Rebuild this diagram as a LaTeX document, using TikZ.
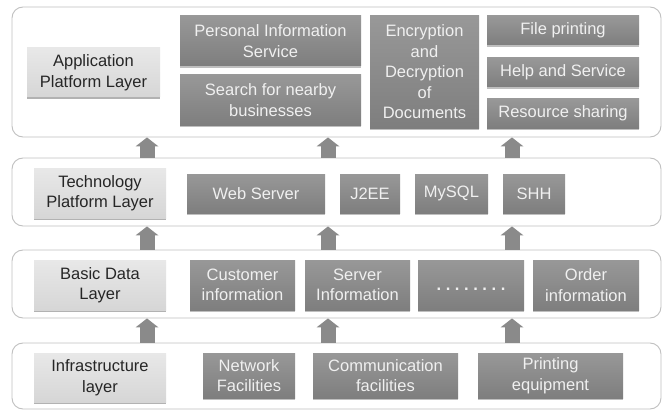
\documentclass[tikz,border=0pt]{standalone}
\usepackage{fontspec}
\setmainfont{Liberation Sans}
\usetikzlibrary{arrows.meta,shadows}
\definecolor{rim}{HTML}{C0C0C0}
\definecolor{slate}{HTML}{8A8A8A}
\definecolor{slatetop}{HTML}{989898}
\definecolor{slatebot}{HTML}{7E7E7E}
\definecolor{paletop}{HTML}{E8E8E8}
\definecolor{palebot}{HTML}{D6D6D6}
\newcommand{\txt}{\fontsize{16.5}{20.5}\selectfont}
\tikzset{layer/.style={draw=rim,line width=.9pt,rounded corners=11pt,fill=white},
  sz/.style 2 args={minimum width=#1,minimum height=#2},
  tag/.style={top color=paletop,bottom color=palebot,text=black!85,align=center,inner sep=0pt,font=\txt,
    drop shadow={shadow xshift=.4pt,shadow yshift=-1.6pt,fill=black,opacity=.3}},
  unit/.style={top color=slatetop,bottom color=slatebot,text=white!94!black,align=center,inner sep=0pt,font=\txt,
    drop shadow={shadow xshift=.4pt,shadow yshift=-1.6pt,fill=black,opacity=.25}},
  uparr/.style={draw=slate,line width=15pt,-{Triangle[width=23pt,length=9pt,line width=0pt]}}}

\begin{document}
\begin{tikzpicture}[x=1pt,y=-1pt]
\useasboundingbox (0,0) rectangle (670,412);
% the four layers
\node[layer,sz={649pt}{130pt}] (lay1) at (336.5,72) {};
\node[layer,sz={649pt}{68pt}] (lay2) at (336.5,192) {};
\node[layer,sz={649pt}{68pt}] (lay3) at (336.5,284) {};
\node[layer,sz={649pt}{66pt}] (lay4) at (336.5,376) {};
\foreach \x [count=\i] in {147,328,512} \coordinate (col\i) at (\x,0);
\foreach \i in {1,2,3}{
  \draw[uparr] (lay2.north -| col\i) -- (lay1.south -| col\i);
  \draw[uparr] (lay3.north -| col\i) -- (lay2.south -| col\i);
  \draw[uparr] (lay4.north -| col\i) -- (lay3.south -| col\i);}
% application platform layer
\node[tag,sz={133pt}{49pt}] (appl) at (93.5,72.5) {Application\\Platform Layer};
\node[unit,sz={181pt}{50pt}] (pis) at (270.5,41) {Personal Information\\Service};
\node[unit,sz={181pt}{50pt}] (near) at (270.5,100) {Search for nearby\\businesses};
\node[unit,sz={109pt}{112pt}] (crypt) at (424.5,72) {Encryption\\and\\Decryption\\of\\Documents};
\node[unit,sz={152pt}{29pt}] (fprint) at (563,30.5) {File printing};
\node[unit,sz={152pt}{29pt}] (help) at (563,72.5) {Help and Service};
\node[unit,sz={152pt}{29pt}] (share) at (563,113.5) {Resource sharing};
% technology platform layer
\node[tag,sz={132pt}{50pt}] (tech) at (100,193) {Technology\\Platform Layer};
\node[unit,sz={138pt}{39pt}] (web) at (256,193.5) {Web Server};
\node[unit,sz={60pt}{39pt}] (jee) at (370,193.5) {J2EE};
\node[unit,sz={73pt}{39pt}] (sql) at (451.5,193.5) {MySQL};
\node[unit,sz={62pt}{39pt}] (shh) at (534,193.5) {SHH};
% basic data layer
\node[tag,sz={132pt}{50pt}] (data) at (100,285) {Basic Data\\Layer};
\node[unit,sz={105pt}{50pt}] (cust) at (242.5,285) {Customer\\information};
\node[unit,sz={105pt}{50pt}] (serv) at (357.5,285) {Server\\Information};
\node[unit,sz={106pt}{50pt}] (more) at (471,285) {\raisebox{-5pt}[0pt][0pt]{\bfseries .\ .\ .\ .\ .\ .\ .\ .}};
\node[unit,sz={106pt}{50pt}] (order) at (586,285) {Order\\information};
% infrastructure layer
\node[tag,sz={132pt}{49pt}] (infra) at (100,377.5) {Infrastructure\\layer};
\node[unit,sz={92pt}{45pt}] (net) at (249,375.5) {Network\\Facilities};
\node[unit,sz={145pt}{45pt}] (comm) at (385.5,375.5) {Communication\\facilities};
\node[unit,sz={145pt}{45pt}] (prn) at (550.5,375.5) {Printing\\equipment};
\end{tikzpicture}
\end{document}
